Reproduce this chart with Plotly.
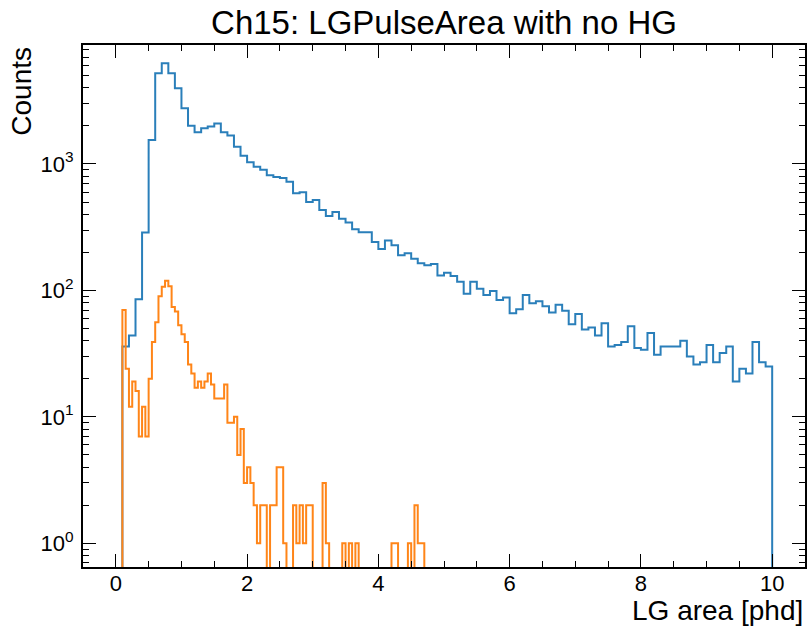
import plotly.graph_objects as go

# ---- data ----
blue_edges_start = 0.0
blue_bin_width = 0.1
blue_counts = [0, 36, 44, 85, 287, 1550, 5230, 6270, 5230, 3980,
               2760, 2010, 1780, 1920, 1980, 2090, 1780, 1680, 1370, 1160,
               1030, 950, 900, 815, 790, 776, 722, 587, 598, 501,
               520, 433, 388, 418, 368, 344, 305, 289, 289, 241,
               213, 248, 228, 190, 197, 178, 164, 158, 162, 131,
               138, 130, 117, 94, 117, 103, 92, 99, 84, 88,
               66, 71, 92, 79, 82, 75, 67, 77, 69, 54,
               65, 49, 51, 44, 55, 36, 37, 39, 52, 35,
               34, 46, 31, 36, 36, 36, 40, 30, 26, 27,
               37, 27, 32, 36, 19, 24, 22, 39, 27, 25]

orange_edges_start = 0.1
orange_bin_width = 0.05
orange_counts = [70, 24, 12, 19, 16, 7, 12, 7, 20, 39,
                 56, 90, 107, 119, 108, 74, 68, 53, 45, 39,
                 26, 22, 17, 19, 17, 19, 22, 18, 14, 14,
                 14, 18, 9, 9, 10, 5, 8, 3, 4, 3,
                 2, 1, 2, 2, 0, 2, 2, 4, 4, 1,
                 0, 0, 2, 1, 2, 1, 2, 2, 0, 0,
                 0, 3, 1, 0, 0, 0, 0, 1, 0, 1,
                 0, 1, 0, 0, 0, 0, 0, 0, 0, 0,
                 0, 0, 1, 1, 0, 0, 0, 1, 0, 2,
                 1, 1]

ytick_vals = [1, 10, 100, 1000]
ytick_text = ["10<sup>0</sup>", "10<sup>1</sup>", "10<sup>2</sup>", "10<sup>3</sup>"]

FLOOR = 1e-3  # below visible range; zero-count bins drop out of view


def step_path(start, width, counts):
    xs, ys = [start], [FLOOR]
    for i, c in enumerate(counts):
        v = c if c > 0 else FLOOR
        xs += [start + i * width, start + (i + 1) * width]
        ys += [v, v]
    xs.append(start + len(counts) * width)
    ys.append(FLOOR)
    return xs, ys


bx, by = step_path(blue_edges_start, blue_bin_width, blue_counts)
ox, oy = step_path(orange_edges_start, orange_bin_width, orange_counts)

fig = go.Figure()
fig.add_trace(go.Scatter(x=bx, y=by, mode="lines",
                         line=dict(color="#2a7fba", width=2), showlegend=False))
fig.add_trace(go.Scatter(x=ox, y=oy, mode="lines",
                         line=dict(color="#ff8518", width=2), showlegend=False))

FONT = "Liberation Sans, Arial, sans-serif"

fig.update_layout(
    width=809, height=632,
    margin=dict(l=83, r=2, t=45, b=65),
    paper_bgcolor="white", plot_bgcolor="white",
    font=dict(family=FONT, color="black", size=22),
    title=dict(text="Ch15: LGPulseArea with no HG", x=0.5, xref="paper",
               xanchor="center", y=1 - 22 / 632, yref="container",
               yanchor="middle", font=dict(size=33, family=FONT, color="black")),
    showlegend=False,
)

fig.update_xaxes(
    range=[-0.5, 10.5], showgrid=False, zeroline=False,
    showline=True, linecolor="black", linewidth=2, mirror="allticks",
    ticks="inside", ticklen=13, tickwidth=1.2, tickcolor="black",
    tick0=0, dtick=2, tickfont=dict(size=22), ticklabelstandoff=-4,
    minor=dict(ticks="inside", ticklen=6, tickwidth=1, tickcolor="black",
               dtick=0.5, tick0=0, showgrid=False),
)

fig.update_yaxes(
    type="log", range=[-0.1875, 3.941], showgrid=False, zeroline=False,
    showline=True, linecolor="black", linewidth=2, mirror="allticks",
    ticks="inside", ticklen=13, tickwidth=1.2, tickcolor="black",
    tickvals=ytick_vals, ticktext=ytick_text, tickfont=dict(size=22),
    ticklabelstandoff=3,
    minor=dict(ticks="inside", ticklen=6, tickwidth=1, tickcolor="black",
               dtick="D1", showgrid=False),
)

fig.add_annotation(text="LG area [phd]", xref="paper", yref="paper",
                   x=1, y=-0.084, xanchor="right", yanchor="middle",
                   showarrow=False, font=dict(size=28, family=FONT, color="black"))
fig.add_annotation(text="Counts", xref="paper", yref="paper",
                   x=(21 - 83) / 724, y=1, xanchor="center", yanchor="top",
                   textangle=-90, showarrow=False,
                   font=dict(size=28, family=FONT, color="black"))

fig.write_html("out.html")
